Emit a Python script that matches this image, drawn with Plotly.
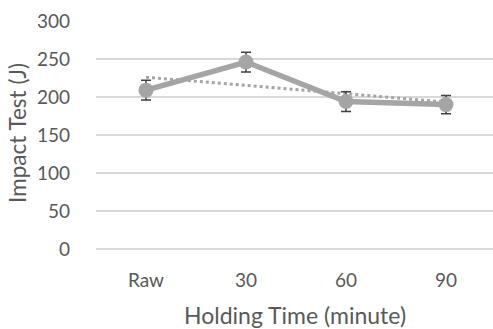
import numpy as np
import plotly.graph_objects as go

categories = ["Raw", "30", "60", "90"]
impact = [209, 246, 194, 190]
errors = [13, 13, 13, 12]
y_ticks = [0, 50, 100, 150, 200, 250, 300]

xi = np.arange(len(categories))
slope, intercept = np.polyfit(xi, impact, 1)
trend = slope * xi + intercept

font_family = "Lato, 'Open Sans', sans-serif"
grey_text = "#595959"

fig = go.Figure()
fig.add_trace(go.Scatter(
    x=xi, y=trend, mode="lines",
    line=dict(color="#A5A5A5", width=3, dash="dot"),
    hoverinfo="skip", showlegend=False,
))
fig.add_trace(go.Scatter(
    x=xi, y=impact, mode="lines+markers",
    line=dict(color="#A5A5A5", width=5.5),
    marker=dict(color="#A5A5A5", size=15),
    error_y=dict(type="data", array=errors, visible=True,
                 color="#404040", thickness=1.5, width=5),
    showlegend=False,
))

fig.update_layout(
    width=493, height=329,
    margin=dict(l=96, r=0, t=21, b=80, autoexpand=False),
    paper_bgcolor="white", plot_bgcolor="white",
    font=dict(family=font_family, color=grey_text, size=19),
    xaxis=dict(
        tickmode="array", tickvals=list(xi), ticktext=categories,
        range=[-0.5, 3.47], showgrid=False, zeroline=False,
        showline=False, ticks="", ticklabelstandoff=18,
        tickfont=dict(size=19, color=grey_text),
        automargin=False,
    ),
    yaxis=dict(
        range=[0, 300], tickvals=y_ticks, showgrid=True,
        gridcolor="#D9D9D9", gridwidth=1.5, zeroline=True,
        zerolinecolor="#D9D9D9", zerolinewidth=1.5,
        ticks="", ticklabelstandoff=25,
        tickfont=dict(size=19, color=grey_text),
        automargin=False,
    ),
    annotations=[
        dict(text="Impact Test (J)", textangle=-90, xref="paper", yref="paper",
             x=-0.196, y=0.51, xanchor="center", yanchor="middle", showarrow=False,
             font=dict(size=22.5, color=grey_text)),
        dict(text="Holding Time (minute)", xref="paper", yref="paper",
             x=0.5, y=-0.2895, xanchor="center", yanchor="middle", showarrow=False,
             font=dict(size=23, color=grey_text)),
    ],
)

fig.write_html("out.html", config={"displayModeBar": False},
               post_script="document.body.style.margin='0';")
